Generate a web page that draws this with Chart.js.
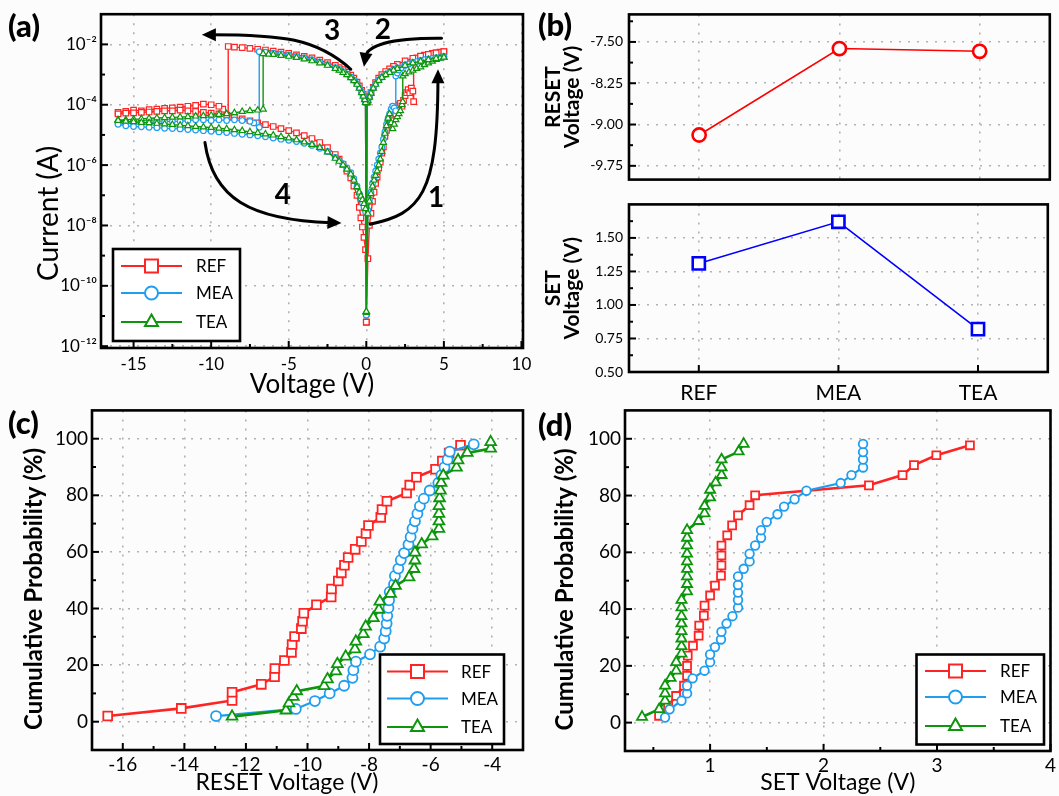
<!DOCTYPE html>
<html>
<head>
<meta charset="utf-8">
<title>Resistive switching: I-V, mean RESET/SET voltages and cumulative distributions</title>
<script src="https://cdn.jsdelivr.net/npm/chart.js@4.4.1/dist/chart.umd.min.js"></script>
<style>
  html, body { margin:0; padding:0; background:#fcfcfc; }
  #fig { position:relative; width:1059px; height:796px; overflow:hidden; }
  #fig canvas { position:absolute; }
  .plabel { position:absolute; font-family: Lato, "Noto Sans", sans-serif; font-weight:900; font-size:31px; line-height:31px; color:#000; }
</style>
</head>
<body>
<div id="fig">
  <canvas id="chartA" width="540" height="400" style="left:0px;top:0px;width:540px;height:400px"></canvas>
  <canvas id="chartB1" width="529" height="194" style="left:530px;top:0px;width:529px;height:194px"></canvas>
  <canvas id="chartB2" width="529" height="220" style="left:530px;top:190px;width:529px;height:220px"></canvas>
  <canvas id="chartC" width="540" height="401" style="left:0px;top:395px;width:540px;height:401px"></canvas>
  <canvas id="chartD" width="529" height="401" style="left:530px;top:395px;width:529px;height:401px"></canvas>
  <div class="plabel" style="left:8px;top:10px">(a)</div>
  <div class="plabel" style="left:538px;top:9px">(b)</div>
  <div class="plabel" style="left:8px;top:407px">(c)</div>
  <div class="plabel" style="left:538px;top:409px">(d)</div>
</div>
<script>
// ================= DATA =================
// ---- (a) I-V sweeps: branch 1 (0 -> +5 V), branch 2 (+5 -> 0 V), branch 3 (0 -> -16 V), branch 4 (-16 -> 0 V)
const seriesNames = ['REF', 'MEA', 'TEA'];

const vDown = [5,4.5,4,3.5,3,2.5,2,1.75,1.5,1.25,1,0.8,0.6,0.45,0.3,0.2,0.1,0.05,0];
const vBack = [-16,-15.5,-15,-14.5,-14,-13.5,-13,-12.5,-12,-11.5,-11,-10.5,-10,-9.5,-9,-8.5,-8,-7.5,-7,-6.5,-6,-5.5,-5,-4.5,-4,-3.5,-3,-2.5,-2,-1.75,-1.5,-1.25,-1,-0.8,-0.6,-0.45,-0.35,-0.25,-0.15,-0.05,0];

const refV1 = [0,0.1,0.2,0.3,0.4,0.5,0.6,0.7,0.8,0.9,1.0,1.1,1.2,1.3,1.4,1.5,1.6,1.7,1.8,1.9,2.0,2.1,2.2,2.3,2.4,2.5,2.6,2.7,2.8,2.9,3.0,3.05,3.05,3.25,3.5,3.75,4.0,4.25,4.5,4.75,5.0];
const refI1 = [6.3e-12,7.9e-10,1.0e-8,2.5e-8,6.3e-8,1.26e-7,2.5e-7,4.0e-7,7.9e-7,1.26e-6,2.5e-6,4.0e-6,8.9e-6,1.41e-5,2.24e-5,2.82e-5,3.16e-5,4.5e-5,6.3e-5,5.0e-5,7.9e-5,1.0e-4,1.12e-4,8.9e-5,1.41e-4,2.0e-4,2.5e-4,3.16e-4,2.5e-4,3.55e-4,2.82e-4,1.26e-4,3.16e-3,3.55e-3,3.98e-3,4.37e-3,4.68e-3,5.0e-3,5.25e-3,5.5e-3,5.75e-3];
const refI2 = [5.75e-3,5.25e-3,4.68e-3,4.07e-3,3.47e-3,2.82e-3,2.19e-3,1.86e-3,1.55e-3,1.26e-3,1.0e-3,7.6e-4,5.4e-4,3.8e-4,2.5e-4,1.86e-4,1.41e-4,1.2e-4,6.3e-12];
const refV3 = [-0.05,-0.1,-0.2,-0.3,-0.45,-0.6,-0.8,-1,-1.25,-1.5,-1.75,-2,-2.5,-3,-3.5,-4,-4.5,-5,-5.5,-6,-6.5,-7,-7.5,-8,-8.5,-8.9,-8.9,-9.25,-9.5,-10,-10.5,-11,-11.5,-12,-12.5,-13,-13.5,-14,-14.5,-15,-15.5,-16];
const refI3 = [1.26e-4,1.58e-4,2.24e-4,3.0e-4,4.2e-4,5.6e-4,7.6e-4,9.5e-4,1.2e-3,1.45e-3,1.7e-3,2.0e-3,2.5e-3,3.0e-3,3.55e-3,3.98e-3,4.47e-3,5.0e-3,5.5e-3,6.0e-3,6.5e-3,6.9e-3,7.4e-3,7.8e-3,8.1e-3,8.5e-3,4.0e-5,7.1e-5,8.9e-5,1.0e-4,1.05e-4,9.5e-5,8.9e-5,8.3e-5,7.9e-5,7.6e-5,7.1e-5,6.9e-5,6.3e-5,6.6e-5,6.0e-5,5.6e-5];
const refI4 = [5.0e-5,5.25e-5,5.4e-5,5.6e-5,5.75e-5,6.0e-5,6.3e-5,6.3e-5,6.6e-5,6.3e-5,6.0e-5,5.6e-5,5.25e-5,5.0e-5,4.5e-5,3.8e-5,3.4e-5,2.95e-5,2.5e-5,2.19e-5,1.9e-5,1.62e-5,1.38e-5,1.17e-5,9.5e-6,7.6e-6,5.6e-6,3.8e-6,2.24e-6,1.58e-6,1.05e-6,6.3e-7,3.8e-7,2.0e-7,1.0e-7,4.0e-8,1.78e-8,8.9e-9,4.0e-9,1.58e-9,6.3e-12];

const meaV1 = [0,0.1,0.2,0.3,0.4,0.5,0.6,0.7,0.8,0.9,1.0,1.1,1.2,1.3,1.4,1.5,1.6,1.7,1.8,1.9,1.9,2.0,2.1,2.25,2.5,2.75,3.0,3.25,3.5,3.75,4.0,4.25,4.5,4.75,5.0];
const meaI1 = [1.07e-11,3.16e-8,7.1e-8,1.26e-7,2.5e-7,4.0e-7,6.3e-7,1.0e-6,1.58e-6,2.5e-6,4.0e-6,7.1e-6,1.26e-5,2.24e-5,3.55e-5,5.0e-5,7.1e-5,8.9e-5,7.9e-5,6.3e-5,8.9e-4,1.12e-3,1.41e-3,1.66e-3,2.0e-3,2.24e-3,2.5e-3,2.7e-3,2.88e-3,3.1e-3,3.24e-3,3.4e-3,3.55e-3,3.7e-3,3.9e-3];
const meaI2 = [3.9e-3,3.55e-3,3.24e-3,2.88e-3,2.51e-3,2.09e-3,1.66e-3,1.45e-3,1.23e-3,1.02e-3,8.3e-4,6.6e-4,4.9e-4,3.6e-4,2.5e-4,1.86e-4,1.41e-4,1.2e-4,1.07e-11];
const meaV3 = [-0.05,-0.1,-0.2,-0.3,-0.45,-0.6,-0.8,-1,-1.25,-1.5,-1.75,-2,-2.5,-3,-3.5,-4,-4.5,-5,-5.5,-6,-6.5,-6.9,-6.9,-7.25,-7.5,-8,-8.5,-9,-9.5,-10,-10.5,-11,-11.5,-12,-12.5,-13,-13.5,-14,-14.5,-15,-15.5,-16];
const meaI3 = [1.17e-4,1.48e-4,2.0e-4,2.7e-4,3.7e-4,5.0e-4,6.6e-4,8.3e-4,1.05e-3,1.26e-3,1.48e-3,1.7e-3,2.14e-3,2.63e-3,3.1e-3,3.55e-3,3.98e-3,4.37e-3,4.8e-3,5.1e-3,5.5e-3,5.75e-3,1.78e-5,2.5e-5,2.82e-5,3.0e-5,3.16e-5,3.0e-5,3.16e-5,3.0e-5,3.16e-5,3.16e-5,3.0e-5,2.82e-5,2.82e-5,2.75e-5,2.7e-5,2.63e-5,2.5e-5,2.5e-5,2.4e-5,2.4e-5];
const meaI4 = [2.24e-5,2.0e-5,1.9e-5,1.86e-5,1.78e-5,1.74e-5,1.66e-5,1.62e-5,1.58e-5,1.51e-5,1.45e-5,1.38e-5,1.32e-5,1.26e-5,1.2e-5,1.12e-5,1.05e-5,1.0e-5,9.3e-6,8.7e-6,7.9e-6,7.2e-6,6.6e-6,6.0e-6,5.25e-6,4.5e-6,3.6e-6,2.82e-6,1.8e-6,1.45e-6,1.12e-6,8.1e-7,5.6e-7,3.55e-7,2.0e-7,1.12e-7,7.9e-8,5.6e-8,4.0e-8,2.82e-8,1.07e-11];

const teaV1 = [0,0.1,0.2,0.3,0.4,0.5,0.6,0.7,0.8,0.9,1.0,1.1,1.2,1.3,1.4,1.5,1.6,1.7,1.8,1.9,2.0,2.1,2.2,2.3,2.35,2.35,2.5,2.75,3.0,3.25,3.5,3.75,4.0,4.25,4.5,4.75,5.0];
const teaI1 = [1.4e-11,2.5e-8,6.3e-8,1.12e-7,2.0e-7,3.16e-7,4.5e-7,6.3e-7,1.0e-6,1.58e-6,2.82e-6,5.6e-6,1.12e-5,2.0e-5,3.55e-5,5.0e-5,2.5e-5,1.58e-5,2.24e-5,3.16e-5,4.0e-5,5.0e-5,6.3e-5,1.0e-4,1.26e-4,8.9e-4,1.05e-3,1.2e-3,1.38e-3,1.58e-3,1.78e-3,2.1e-3,2.4e-3,2.75e-3,3.16e-3,3.47e-3,3.7e-3];
const teaI2 = [3.7e-3,3.4e-3,3.1e-3,2.75e-3,2.4e-3,2.0e-3,1.58e-3,1.38e-3,1.17e-3,9.8e-4,7.9e-4,6.3e-4,4.7e-4,3.5e-4,2.4e-4,1.78e-4,1.35e-4,1.17e-4,1.3e-11];
const teaV3 = [-0.05,-0.1,-0.2,-0.3,-0.45,-0.6,-0.8,-1,-1.25,-1.5,-1.75,-2,-2.5,-3,-3.5,-4,-4.5,-5,-5.5,-6,-6.3,-6.65,-6.65,-7,-7.5,-8,-8.5,-9,-9.5,-10,-10.5,-11,-11.5,-12,-12.5,-13,-13.5,-14,-14.5,-15,-15.5,-16];
const teaI3 = [1.17e-4,1.45e-4,1.9e-4,2.5e-4,3.5e-4,4.7e-4,6.2e-4,7.8e-4,9.8e-4,1.17e-3,1.38e-3,1.58e-3,2.0e-3,2.4e-3,2.82e-3,3.24e-3,3.63e-3,3.98e-3,4.27e-3,4.57e-3,4.68e-3,4.9e-3,7.1e-5,6.6e-5,6.3e-5,5.9e-5,5.4e-5,5.0e-5,4.7e-5,4.47e-5,4.27e-5,4.17e-5,3.98e-5,3.9e-5,3.8e-5,3.7e-5,3.63e-5,3.55e-5,3.4e-5,3.3e-5,3.16e-5,3.16e-5];
const teaI4 = [3.0e-5,2.82e-5,2.7e-5,2.57e-5,2.5e-5,2.4e-5,2.3e-5,2.19e-5,2.1e-5,2.0e-5,1.9e-5,1.82e-5,1.74e-5,1.66e-5,1.58e-5,1.48e-5,1.38e-5,1.26e-5,1.17e-5,1.07e-5,9.8e-6,8.7e-6,7.8e-6,6.8e-6,5.75e-6,4.8e-6,3.8e-6,2.7e-6,1.66e-6,1.32e-6,1.0e-6,7.2e-7,5.0e-7,3.16e-7,1.9e-7,1.26e-7,9.3e-8,7.1e-8,5.25e-8,3.55e-8,1.4e-11];

// sweep-direction arrows (V, A) and their numbers
const sweepArrows = [
  [[0.25,1.1e-8],[3.5,2.5e-8],[4.6,1.0e-7],[4.62,1.5e-3]],
  [[4.85,1.6e-2],[1.5,1.65e-2],[0.05,9e-3],[-0.15,1.8e-3]],
  [[-1.0,1.5e-3],[-3.2,1.6e-2],[-5.5,2.1e-2],[-10.6,2.1e-2]],
  [[-10.4,5.6e-6],[-9.9,8e-8],[-7.5,1.5e-8],[-1.6,1.2e-8]]
];
const sweepLabels = [
  {t:'1', v:4.5, i:7.9e-8}, {t:'2', v:1.07, i:3.0e-2},
  {t:'3', v:-2.2, i:2.7e-2}, {t:'4', v:-5.38, i:1.05e-7}
];
const aXTicks = [-15,-10,-5,0,5,10];
const aXMinor = [-12.5,-7.5,-2.5,2.5,7.5];
const aYTicks = [1e-12,1e-10,1e-8,1e-6,1e-4,1e-2];
const aYMinor = [1e-11,1e-9,1e-7,1e-5,1e-3];

// ---- (b) mean switching voltages
const bCategories = ['REF','MEA','TEA'];
const resetMean = [-9.19,-7.62,-7.67];
const setMean = [1.31,1.62,0.82];
const bResetTicks = [-9.75,-9.0,-8.25,-7.5];
const bResetMinor = [-9.375,-8.625,-7.875,-7.125];
const bSetTicks = [0.5,0.75,1.0,1.25,1.5];
const bSetMinor = [0.625,0.875,1.125,1.375,1.625];

// ---- (c) cumulative probability of RESET voltage
const refResetV = [-16.49,-14.1,-12.45,-12.45,-11.5,-11.07,-11.06,-10.75,-10.52,-10.5,-10.42,-10.2,-10.16,-10.12,-9.71,-9.23,-9.22,-9.0,-8.9,-8.8,-8.68,-8.45,-8.25,-8.1,-8.02,-7.62,-7.58,-7.42,-6.78,-6.68,-6.46,-5.84,-5.62,-5.4,-5.03];
const refResetP = [2.0,4.7,7.5,10.4,13.2,15.9,18.8,21.6,24.5,27.3,30.1,32.9,35.5,38.3,41.3,44.1,46.9,49.7,52.6,55.3,58.0,60.9,63.7,66.5,69.3,72.2,75.0,77.9,80.8,83.6,86.4,89.2,92.1,94.9,97.7];
const meaResetV = [-12.97,-10.38,-9.76,-9.28,-8.81,-8.54,-8.51,-8.43,-7.97,-7.64,-7.51,-7.46,-7.43,-7.41,-7.37,-7.35,-7.33,-7.19,-7.16,-7.05,-6.97,-6.86,-6.72,-6.65,-6.59,-6.51,-6.43,-6.35,-6.22,-6.03,-5.75,-5.65,-5.55,-5.45,-5.38,-4.6];
const meaResetP = [2.0,4.5,7.3,10.0,12.7,15.5,18.2,21.2,23.8,26.5,29.4,32.0,34.7,37.4,40.2,42.9,45.9,48.6,51.5,54.1,57.1,59.6,62.6,65.3,68.2,70.8,73.5,76.2,78.8,81.7,84.4,87.1,89.9,92.6,95.4,98.0];
const teaResetV = [-12.45,-10.7,-10.6,-10.46,-10.35,-9.46,-9.35,-9.08,-9.03,-8.76,-8.46,-8.43,-8.19,-8.11,-7.86,-7.68,-7.65,-7.3,-7.14,-6.7,-6.54,-6.51,-6.51,-6.29,-5.95,-5.73,-5.73,-5.73,-5.73,-5.71,-5.68,-5.66,-5.59,-5.16,-5.11,-4.81,-4.05,-4.05];
const teaResetP = [1.8,4.0,6.5,8.8,10.8,12.6,15.0,17.8,20.4,23.0,25.6,28.3,31.0,33.6,36.6,39.6,42.5,45.2,48.0,51.0,54.0,57.0,59.8,62.7,65.5,68.2,70.8,73.5,76.2,79.0,81.7,84.4,87.0,89.8,92.4,95.0,96.5,98.8];
const cXTicks = [-16,-14,-12,-10,-8,-6,-4];
const cXMinor = [-15,-13,-11,-9,-7,-5];
const probTicks = [0,20,40,60,80,100];
const probMinor = [10,30,50,70,90];

// ---- (d) cumulative probability of SET voltage
const refSetV = [0.55,0.63,0.7,0.77,0.797,0.797,0.803,0.849,0.899,0.904,0.945,0.951,1.0,1.043,1.096,1.1,1.1,1.1,1.151,1.194,1.246,1.348,1.397,2.4,2.696,2.797,2.994,3.29];
const refSetP = [2.4,5.9,9.4,13.0,16.5,20.0,23.6,27.1,30.6,34.2,37.7,41.2,44.8,48.3,51.8,55.4,58.9,62.4,66.0,69.5,73.0,76.6,80.1,83.6,87.2,90.7,94.2,97.7];
const meaSetV = [0.603,0.643,0.748,0.797,0.797,0.846,0.951,1.0,1.0,1.043,1.096,1.1,1.145,1.197,1.246,1.246,1.246,1.246,1.246,1.296,1.348,1.348,1.397,1.449,1.449,1.499,1.594,1.652,1.745,1.849,2.151,2.246,2.348,2.348,2.348,2.348];
const meaSetP = [1.8,4.7,7.7,10.3,13.0,15.6,18.3,21.3,24.0,26.6,29.3,32.0,34.9,37.5,40.5,43.2,45.8,48.5,51.5,54.2,56.8,59.5,62.4,65.1,67.8,70.7,73.4,76.1,78.7,81.7,84.4,87.2,89.9,92.7,95.3,98.2];
const teaSetV = [0.4,0.551,0.603,0.603,0.603,0.652,0.701,0.701,0.748,0.748,0.748,0.748,0.748,0.748,0.748,0.748,0.797,0.797,0.797,0.797,0.797,0.797,0.797,0.797,0.797,0.899,0.951,0.951,1.0,1.0,1.049,1.101,1.101,1.101,1.252,1.296];
const teaSetP = [2.0,4.7,7.7,10.3,13.0,15.7,18.3,21.3,24.3,26.9,29.6,32.2,34.9,37.5,40.6,43.2,46.2,48.8,51.5,54.1,56.8,59.5,62.4,65.1,67.8,71.0,73.7,76.3,79.3,82.0,84.6,87.2,89.9,92.7,95.5,98.2];
const dXTicks = [1,2,3,4];
const dXMinor = [0.5,1.5,2.5,3.5];

// ================= STYLE / PLUGINS =================
const FONT = 'Lato, "Noto Sans", "DejaVu Sans", sans-serif';
Chart.defaults.font.family = FONT;
Chart.defaults.color = '#000';
const RED = '#ff2424', BLUE = '#1f9ef0', GREEN = '#0d960d';
const GRID = { color:'#b2b2b2', lineWidth:1.6, drawTicks:false };
const BORDER = { display:false, dash:[2,7] };

function pts(xs, ys) { return xs.map((x, k) => ({x:x, y:ys[k]})); }
const SUP = {'-':'\u207B','0':'\u2070','1':'\u00B9','2':'\u00B2','3':'\u00B3','4':'\u2074','5':'\u2075','6':'\u2076','7':'\u2077','8':'\u2078','9':'\u2079'};
function pow10Label(v) { return '10' + String(Math.round(Math.log10(v))).split('').map(c => SUP[c]).join(''); }

function drawMarker(ctx, style, x, y, s) {
  ctx.beginPath();
  if (style === 'rect') ctx.rect(x - s, y - s, 2 * s, 2 * s);
  else if (style === 'circle') ctx.arc(x, y, s, 0, Math.PI * 2);
  else { ctx.moveTo(x, y - s * 1.15); ctx.lineTo(x + s * 1.0, y + s * 0.6); ctx.lineTo(x - s * 1.0, y + s * 0.6); ctx.closePath(); }
  ctx.fill(); ctx.stroke();
}

const frame = {
  id:'frame',
  afterDraw(chart) {
    const {ctx, chartArea:a} = chart;
    ctx.save(); ctx.setLineDash([]); ctx.lineWidth = 2.6; ctx.strokeStyle = '#000';
    ctx.strokeRect(a.left, a.top, a.right - a.left, a.bottom - a.top);
    ctx.restore();
  }
};

const inwardTicks = {
  id:'inwardTicks',
  afterDraw(chart, args, o) {
    const {ctx, chartArea:a} = chart;
    const xs = chart.scales.x, ys = chart.scales.y;
    ctx.save(); ctx.setLineDash([]); ctx.strokeStyle = '#000'; ctx.lineWidth = 2;
    const seg = (x1, y1, x2, y2) => { ctx.beginPath(); ctx.moveTo(x1, y1); ctx.lineTo(x2, y2); ctx.stroke(); };
    if (o.x !== false) {
      xs.ticks.forEach((t, i) => { const p = xs.getPixelForTick(i); seg(p, a.bottom, p, a.bottom - 7); });
      (o.minorX || []).forEach(v => { const p = xs.getPixelForValue(v); seg(p, a.bottom, p, a.bottom - 4); });
    }
    if (o.y !== false) {
      ys.ticks.forEach((t, i) => { const p = ys.getPixelForTick(i); seg(a.left, p, a.left + 7, p); });
      (o.minorY || []).forEach(v => { const p = ys.getPixelForValue(v); seg(a.left, p, a.left + 4, p); });
    }
    ctx.restore();
  }
};

const boxLegend = {
  id:'boxLegend',
  afterDraw(chart, args, o) {
    if (!o || !o.w) return;
    const ctx = chart.ctx;
    ctx.save(); ctx.setLineDash([]);
    ctx.fillStyle = '#fff'; ctx.fillRect(o.x, o.y, o.w, o.h);
    ctx.lineWidth = 2.6; ctx.strokeStyle = '#000'; ctx.strokeRect(o.x, o.y, o.w, o.h);
    ctx.font = o.fontSize + 'px ' + FONT; ctx.textBaseline = 'middle'; ctx.textAlign = 'left';
    chart.data.datasets.forEach((d, i) => {
      const y = o.rows[i];
      ctx.strokeStyle = d.borderColor; ctx.lineWidth = 2;
      ctx.beginPath(); ctx.moveTo(o.lx1, y); ctx.lineTo(o.lx2, y); ctx.stroke();
      ctx.fillStyle = '#fff'; ctx.lineWidth = 2;
      drawMarker(ctx, d.pointStyle, (o.lx1 + o.lx2) / 2, y, o.ms);
      ctx.fillStyle = '#000'; ctx.fillText(d.label, o.tx, y + 1);
    });
    ctx.restore();
  }
};

const ivArrows = {
  id:'ivArrows',
  afterDraw(chart) {
    const {ctx} = chart; const xs = chart.scales.x, ys = chart.scales.y;
    const P = p => [xs.getPixelForValue(p[0]), ys.getPixelForValue(p[1])];
    ctx.save(); ctx.setLineDash([]);
    ctx.strokeStyle = '#000'; ctx.fillStyle = '#000'; ctx.lineWidth = 3; ctx.lineCap = 'round';
    sweepArrows.forEach(arr => {
      const [p0, p1, p2, p3] = arr.map(P);
      const ang = Math.atan2(p3[1] - p2[1], p3[0] - p2[0]);
      const L = 14, W = 6.5, c = Math.cos(ang), s = Math.sin(ang);
      ctx.beginPath(); ctx.moveTo(p0[0], p0[1]);
      ctx.bezierCurveTo(p1[0], p1[1], p2[0], p2[1], p3[0] - c * L * 0.7, p3[1] - s * L * 0.7);
      ctx.stroke();
      ctx.beginPath(); ctx.moveTo(p3[0], p3[1]);
      ctx.lineTo(p3[0] - c * L - s * W, p3[1] - s * L + c * W);
      ctx.lineTo(p3[0] - c * L + s * W, p3[1] - s * L - c * W);
      ctx.closePath(); ctx.fill();
    });
    ctx.font = 'bold 28px ' + FONT; ctx.textAlign = 'center'; ctx.textBaseline = 'middle';
    sweepLabels.forEach(l => { const q = P([l.v, l.i]); ctx.fillText(l.t, q[0], q[1]); });
    ctx.restore();
  }
};

function fixedTicks(list) { return s => { s.ticks = list.map(v => ({value:v})); }; }

// ================= (a) =================
new Chart(document.getElementById('chartA'), {
  type:'line',
  data:{ datasets:[
    { label:seriesNames[0], data:[...pts(refV1, refI1), ...pts(vDown, refI2), ...pts(refV3, refI3), ...pts(vBack, refI4)],
      borderColor:RED, backgroundColor:'#fff', pointBorderColor:RED, pointBackgroundColor:'#fff', pointStyle:'rect',
      pointRadius:3.9, pointBorderWidth:1.2, borderWidth:1.4, order:3 },
    { label:seriesNames[1], data:[...pts(meaV1, meaI1), ...pts(vDown, meaI2), ...pts(meaV3, meaI3), ...pts(vBack, meaI4)],
      borderColor:BLUE, backgroundColor:'#fff', pointBorderColor:BLUE, pointBackgroundColor:'#fff', pointStyle:'circle',
      pointRadius:2.8, pointBorderWidth:1.2, borderWidth:1.4, order:2 },
    { label:seriesNames[2], data:[...pts(teaV1, teaI1), ...pts(vDown, teaI2), ...pts(teaV3, teaI3), ...pts(vBack, teaI4)],
      borderColor:GREEN, backgroundColor:'#fff', pointBorderColor:GREEN, pointBackgroundColor:'#fff', pointStyle:'triangle',
      pointRadius:3.6, pointBorderWidth:1.2, borderWidth:1.4, order:1 }
  ]},
  options:{
    responsive:false, animation:false, events:[],
    layout:{ padding:{ top:12, right:17, bottom:0, left:0 } },
    plugins:{
      legend:{display:false}, tooltip:{enabled:false},
      inwardTicks:{ minorX:aXMinor, minorY:aYMinor },
      boxLegend:{ x:113, y:249, w:127, h:92, rows:[266,293,322], lx1:121, lx2:182, tx:196, fontSize:17, ms:6.5 }
    },
    scales:{
      x:{ type:'linear', min:-17.1, max:10.1, afterBuildTicks:fixedTicks(aXTicks), afterFit:s => { s.height = 52; },
          ticks:{ font:{size:17}, padding:6, autoSkip:false, maxRotation:0, callback:v => String(v) },
          grid:GRID, border:BORDER,
          title:{ display:true, text:'Voltage (V)', font:{size:26}, padding:{top:0, bottom:0} } },
      y:{ type:'logarithmic', min:8.7e-13, max:0.1, afterBuildTicks:fixedTicks(aYTicks), afterFit:s => { s.width = 101; },
          ticks:{ font:{size:17}, padding:4, autoSkip:false, callback:v => pow10Label(v) },
          grid:GRID, border:BORDER,
          title:{ display:true, text:'Current (A)\u00A0\u00A0\u00A0\u00A0\u00A0\u00A0\u00A0\u00A0\u00A0', font:{size:28}, padding:{top:32, bottom:0} } }
    }
  },
  plugins:[inwardTicks, ivArrows, frame, boxLegend]
});

// ================= (b) =================
function bChart(id, values, color, style, radius, yMin, yMax, yTicks, yMinor, title, showX, padTop, padBottom, xHeight) {
  return new Chart(document.getElementById(id), {
    type:'line',
    data:{ labels:bCategories, datasets:[{ label:title.join(' '), data:values, borderColor:color, backgroundColor:'#fff',
      pointBorderColor:color, pointBackgroundColor:'#fff', pointStyle:style, pointRadius:radius, pointBorderWidth:2.6, borderWidth:1.6 }] },
    options:{
      responsive:false, animation:false, events:[],
      layout:{ padding:{ top:padTop, right:6, bottom:padBottom, left:0 } },
      plugins:{ legend:{display:false}, tooltip:{enabled:false}, inwardTicks:{ x:showX, minorY:yMinor } },
      scales:{
        x:{ type:'category', offset:true, afterFit:s => { s.height = xHeight; },
            ticks:{ display:showX, font:{size:21}, padding:9, autoSkip:false, maxRotation:0 },
            grid:GRID, border:BORDER },
        y:{ type:'linear', min:yMin, max:yMax, afterBuildTicks:fixedTicks(yTicks), afterFit:s => { s.width = 99; },
            ticks:{ font:{size:14}, padding:6, autoSkip:false, callback:v => Number(v).toFixed(2) },
            grid:GRID, border:BORDER,
            title:{ display:true, text:title, font:{size:21, weight:'bold', lineHeight:0.9}, padding:{top:14, bottom:0} } }
      }
    },
    plugins:[inwardTicks, frame]
  });
}
bChart('chartB1', resetMean, '#ff0000', 'circle', 6.6, -10, -7, bResetTicks, bResetMinor, ['RESET','Voltage (V)'], false, 13, 2, 0);
bChart('chartB2', setMean, '#0000ff', 'rect', 8.6, 0.5, 1.75, bSetTicks, bSetMinor, ['SET','Voltage (V)'], true, 2, 0, 38);

// ================= (c) & (d) =================
function cdfChart(id, sets, xMin, xMax, xTicks, xMinor, xTitle, padTop, padRight, yWidth, xHeight, yTitlePad, legend, sizes) {
  const styles = [[RED,'rect',sizes[0],2.6],[BLUE,'circle',sizes[1],2.2],[GREEN,'triangle',sizes[2],2.6]];
  return new Chart(document.getElementById(id), {
    type:'line',
    data:{ datasets:sets.map((s, k) => ({ label:seriesNames[k], data:pts(s[0], s[1]),
      borderColor:styles[k][0], backgroundColor:'#fff', pointBorderColor:styles[k][0], pointBackgroundColor:'#fff',
      pointStyle:styles[k][1], pointRadius:styles[k][2], pointBorderWidth:1.8, borderWidth:styles[k][3], order:3 - k })) },
    options:{
      responsive:false, animation:false, events:[],
      layout:{ padding:{ top:padTop, right:padRight, bottom:0, left:0 } },
      plugins:{ legend:{display:false}, tooltip:{enabled:false},
        inwardTicks:{ minorX:xMinor, minorY:probMinor }, boxLegend:legend },
      scales:{
        x:{ type:'linear', min:xMin, max:xMax, afterBuildTicks:fixedTicks(xTicks), afterFit:s => { s.height = xHeight; },
            ticks:{ font:{size:19}, padding:3, autoSkip:false, maxRotation:0, callback:v => String(v) },
            grid:GRID, border:BORDER,
            title:{ display:true, text:xTitle, font:{size:23}, padding:{top:0, bottom:0} } },
        y:{ type:'linear', min:-10, max:110, afterBuildTicks:fixedTicks(probTicks), afterFit:s => { s.width = yWidth; },
            ticks:{ font:{size:19}, padding:4, autoSkip:false, callback:v => String(v) },
            grid:GRID, border:BORDER,
            title:{ display:true, text:'Cumulative Probability (%)\u00A0\u00A0\u00A0', font:{size:24, weight:'bold'}, padding:{top:yTitlePad, bottom:0} } }
      }
    },
    plugins:[inwardTicks, frame, boxLegend]
  });
}
cdfChart('chartC', [[refResetV, refResetP], [meaResetV, meaResetP], [teaResetV, teaResetP]], -17, -3, cXTicks, cXMinor,
  'RESET Voltage (V)\u00A0\u00A0\u00A0\u00A0\u00A0\u00A0\u00A0', 10, 17, 92, 46, 20,
  { x:380, y:259.5, w:124, h:89.5, rows:[276.5,303.5,332], lx1:387, lx2:448, tx:461, fontSize:17, ms:6.5 }, [6.2, 5, 6.2]);
cdfChart('chartD', [[refSetV, refSetP], [meaSetV, meaSetP], [teaSetV, teaSetP]], 0.25, 4, dXTicks, dXMinor,
  'SET Voltage (V)', 12.5, 5, 95, 45, 21,
  { x:386.5, y:259.5, w:127.5, h:90, rows:[276,302,331], lx1:395, lx2:456, tx:470, fontSize:17, ms:6.5 }, [5.6, 4.3, 5.8]);
</script>
</body>
</html>
